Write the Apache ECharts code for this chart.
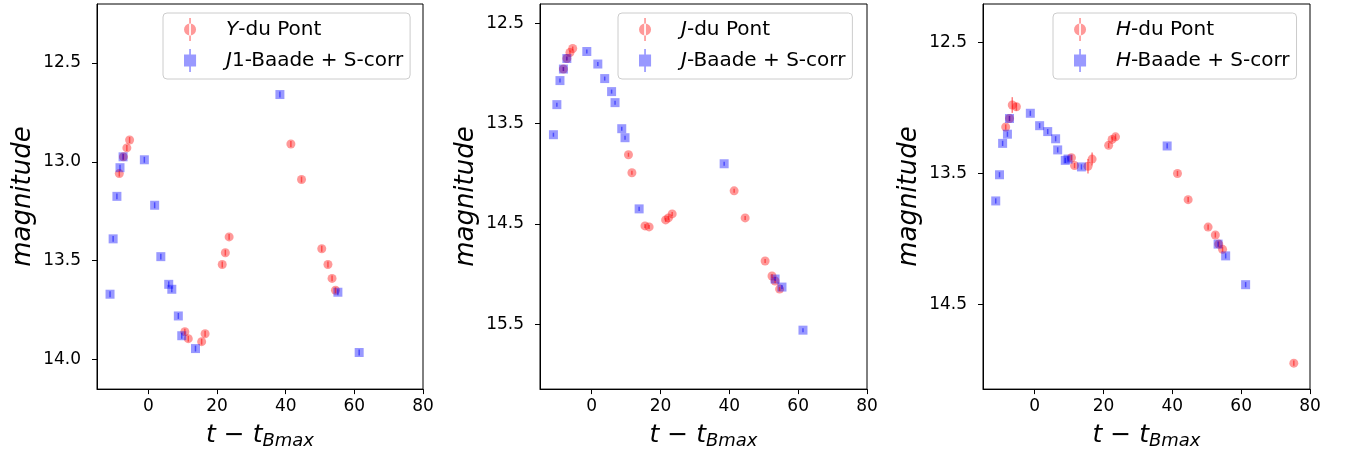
<!DOCTYPE html>
<html>
<head>
<meta charset="utf-8">
<script src="https://cdn.jsdelivr.net/npm/echarts@6/dist/echarts.min.js"></script>
<style>html,body{margin:0;padding:0;background:#fff}#c{width:1347px;height:455px}</style>
</head>
<body>
<div id="c"></div>
<script>
// ---- data: [t - tBmax, magnitude, error] ----
const Y_duPont = [[-8.5,13.06,0.015],[-7.3,12.975,0.015],[-6.3,12.93,0.015],[-5.5,12.89,0.015],[10.6,13.86,0.015],[11.6,13.895,0.015],[15.5,13.91,0.015],[16.5,13.87,0.015],[21.5,13.52,0.015],[22.4,13.46,0.015],[23.5,13.38,0.015],[41.5,12.91,0.015],[44.6,13.09,0.015],[50.5,13.44,0.015],[52.3,13.52,0.015],[53.5,13.59,0.015],[54.5,13.65,0.015]];
const J1_Baade = [[-11.2,13.67,0.015],[-10.3,13.39,0.015],[-9.2,13.175,0.015],[-8.3,13.03,0.015],[-7.4,12.975,0.015],[-1.2,12.99,0.015],[1.8,13.22,0.015],[3.6,13.48,0.015],[5.9,13.62,0.015],[6.8,13.645,0.015],[8.7,13.78,0.015],[9.7,13.88,0.015],[13.7,13.945,0.015],[38.3,12.66,0.015],[55.2,13.66,0.015],[61.4,13.965,0.015]];
const J_duPont = [[-8.2,12.955,0.02],[-7.2,12.85,0.02],[-6.3,12.79,0.02],[-5.5,12.75,0.02],[10.7,13.81,0.02],[11.7,13.99,0.02],[15.5,14.52,0.02],[16.7,14.53,0.02],[21.5,14.46,0.02],[22.3,14.44,0.02],[23.4,14.40,0.02],[41.4,14.17,0.02],[44.6,14.44,0.02],[50.4,14.87,0.02],[52.4,15.02,0.02],[53.3,15.07,0.02],[54.6,15.15,0.02]];
const J_Baade = [[-11.1,13.61,0.02],[-10.1,13.31,0.02],[-9.2,13.07,0.02],[-8.2,12.955,0.02],[-7.2,12.85,0.02],[-1.4,12.78,0.02],[1.8,12.905,0.02],[3.8,13.05,0.02],[5.8,13.18,0.02],[6.8,13.29,0.02],[8.75,13.55,0.02],[9.7,13.64,0.02],[13.8,14.35,0.02],[38.5,13.90,0.02],[53.3,15.05,0.02],[55.3,15.13,0.02],[61.4,15.56,0.02]];
const H_duPont = [[-8.4,13.145,0.02],[-7.3,13.08,0.02],[-6.5,12.977,0.06],[-5.3,12.99,0.03],[10.7,13.38,0.02],[11.6,13.44,0.02],[15.5,13.445,0.055],[16.7,13.39,0.05],[21.5,13.285,0.02],[22.5,13.24,0.02],[23.5,13.22,0.02],[41.5,13.50,0.02],[44.6,13.70,0.02],[50.4,13.91,0.02],[52.5,13.97,0.02],[53.5,14.04,0.02],[54.6,14.08,0.02],[75.3,14.95,0.02]];
const H_Baade = [[-11.3,13.71,0.02],[-10.2,13.51,0.02],[-9.3,13.27,0.02],[-7.9,13.20,0.02],[-7.3,13.08,0.02],[-1.25,13.04,0.02],[1.45,13.135,0.02],[3.8,13.18,0.02],[6.1,13.235,0.02],[6.7,13.32,0.02],[8.9,13.40,0.02],[9.7,13.39,0.02],[13.6,13.45,0.02],[38.5,13.29,0.02],[53.3,14.04,0.02],[55.5,14.13,0.02],[61.3,14.35,0.02]];

const X_TICKS = [0, 20, 40, 60, 80];
const Y_TICKS_1 = [12.5, 13.0, 13.5, 14.0];
const Y_TICKS_2 = [12.5, 13.5, 14.5, 15.5];
const Y_TICKS_3 = [12.5, 13.5, 14.5];
const Y_RANGES = [[12.202, 14.15], [12.306, 16.148], [12.205, 15.148]];
const X_RANGE = [-15, 80];

const LEGEND_NAMES = [
  ['Y-du Pont', 'J1-Baade + S-corr'],
  ['J-du Pont', 'J-Baade + S-corr'],
  ['H-du Pont', 'H-Baade + S-corr']
];

// ---- chart ----
const RED = 'rgba(255,0,0,0.5)';
const BLUE = 'rgba(0,0,255,0.5)';
const FONT = 'DejaVu Sans';
const gridLefts = [97, 540, 983];
const gridWidths = [326, 327, 327];
const legendLefts = [163, 618, 1053];
const yTicks = [Y_TICKS_1, Y_TICKS_2, Y_TICKS_3];
const seriesData = [[Y_duPont, J1_Baade], [J_duPont, J_Baade], [H_duPont, H_Baade]];
const ICON_CIRCLE = 'path://M0.8,8 a4.2,4.2 0 1,0 8.4,0 a4.2,4.2 0 1,0 -8.4,0 Z M4.4,0 h1.2 v16 h-1.2 Z';
const ICON_SQUARE = 'path://M0.8,3.8 h8.4 v8.4 h-8.4 Z M4.4,0 h1.2 v16 h-1.2 Z';

function legendFmt(name) {
  const i = name.indexOf('-');
  let head = name.slice(0, i), tail = name.slice(i);
  let itPart = head[0], rest = head.slice(1) + tail;
  return '{it|' + itPart + '}{n|' + rest + '}';
}

const grids = [], xAxes = [], yAxes = [], series = [], legends = [];
for (let p = 0; p < 3; p++) {
  grids.push({left: gridLefts[p], top: 4, width: gridWidths[p], height: 386, show: true, borderColor: '#000', borderWidth: 1, containLabel: false});
  xAxes.push({
    type: 'value', gridIndex: p, min: X_RANGE[0], max: X_RANGE[1],
    axisLine: {show: true, onZero: false, lineStyle: {color: '#000', width: 1}},
    axisTick: {show: true, length: 5, lineStyle: {color: '#000'}, customValues: X_TICKS},
    axisLabel: {customValues: X_TICKS, fontSize: 17, color: '#000', fontFamily: FONT, margin: 9},
    splitLine: {show: false},
    name: '{it|t}{n| − }{it|t}{sub|Bmax}', nameLocation: 'middle', nameGap: 26,
    nameTextStyle: {fontFamily: FONT, color: '#000', rich: {
      it: {fontSize: 25, fontStyle: 'italic', fontFamily: FONT, color: '#000', lineHeight: 30},
      n: {fontSize: 25, fontFamily: FONT, color: '#000', lineHeight: 30},
      sub: {fontSize: 18, fontStyle: 'italic', fontFamily: FONT, color: '#000', lineHeight: 30, padding: [12, 0, 0, 0]}
    }}
  });
  yAxes.push({
    type: 'value', gridIndex: p, inverse: true, min: Y_RANGES[p][0], max: Y_RANGES[p][1],
    axisLine: {show: true, onZero: false, lineStyle: {color: '#000', width: 1}},
    axisTick: {show: true, length: 5, lineStyle: {color: '#000'}, customValues: yTicks[p]},
    axisLabel: {customValues: yTicks[p], fontSize: 17, color: '#000', fontFamily: FONT, margin: 16, formatter: v => v.toFixed(1)},
    splitLine: {show: false},
    name: 'magnitude', nameLocation: 'middle', nameGap: 61,
    nameTextStyle: {fontSize: 26, fontStyle: 'italic', fontFamily: FONT, color: '#000'}
  });
  const [red, blue] = seriesData[p];
  const names = LEGEND_NAMES[p];
  [[red, RED, 'circle', names[0]], [blue, BLUE, 'rect', names[1]]].forEach(([d, col, sym, nm]) => {
    series.push({
      type: 'custom', name: nm + ' err', xAxisIndex: p, yAxisIndex: p, data: d, silent: true, z: 3,
      encode: {x: 0, y: 1},
      renderItem: (params, api) => {
        const x = api.value(0), y = api.value(1), e = api.value(2);
        const a = api.coord([x, y - e]), b = api.coord([x, y + e]);
        return {type: 'line', shape: {x1: a[0], y1: a[1], x2: b[0], y2: b[1]}, style: {stroke: col, lineWidth: 1.5}};
      }
    });
    series.push({
      type: 'scatter', name: nm, xAxisIndex: p, yAxisIndex: p, data: d.map(v => [v[0], v[1]]),
      symbol: sym, symbolSize: 9, itemStyle: {color: col}, z: 2
    });
  });
  legends.push({
    data: [{name: names[0], icon: ICON_CIRCLE}, {name: names[1], icon: ICON_SQUARE}],
    left: legendLefts[p], top: 13, orient: 'vertical',
    itemWidth: 14, itemHeight: 23, itemGap: 8, padding: [5, 7, 7, 21],
    backgroundColor: 'rgba(255,255,255,0.8)', borderColor: '#cccccc', borderWidth: 1, borderRadius: 4,
    selectedMode: false, formatter: legendFmt,
    textStyle: {fontSize: 20, fontFamily: FONT, color: '#000', rich: {
      it: {fontSize: 20, fontStyle: 'italic', fontFamily: FONT, color: '#000', lineHeight: 23, padding: [0, 0, 0, 24]},
      n: {fontSize: 20, fontFamily: FONT, color: '#000', lineHeight: 23}
    }}
  });
}

const chart = echarts.init(document.getElementById('c'), null, {renderer: 'canvas'});
chart.setOption({
  animation: false,
  textStyle: {fontFamily: FONT},
  grid: grids, xAxis: xAxes, yAxis: yAxes, legend: legends, series: series
});
</script>
</body>
</html>
